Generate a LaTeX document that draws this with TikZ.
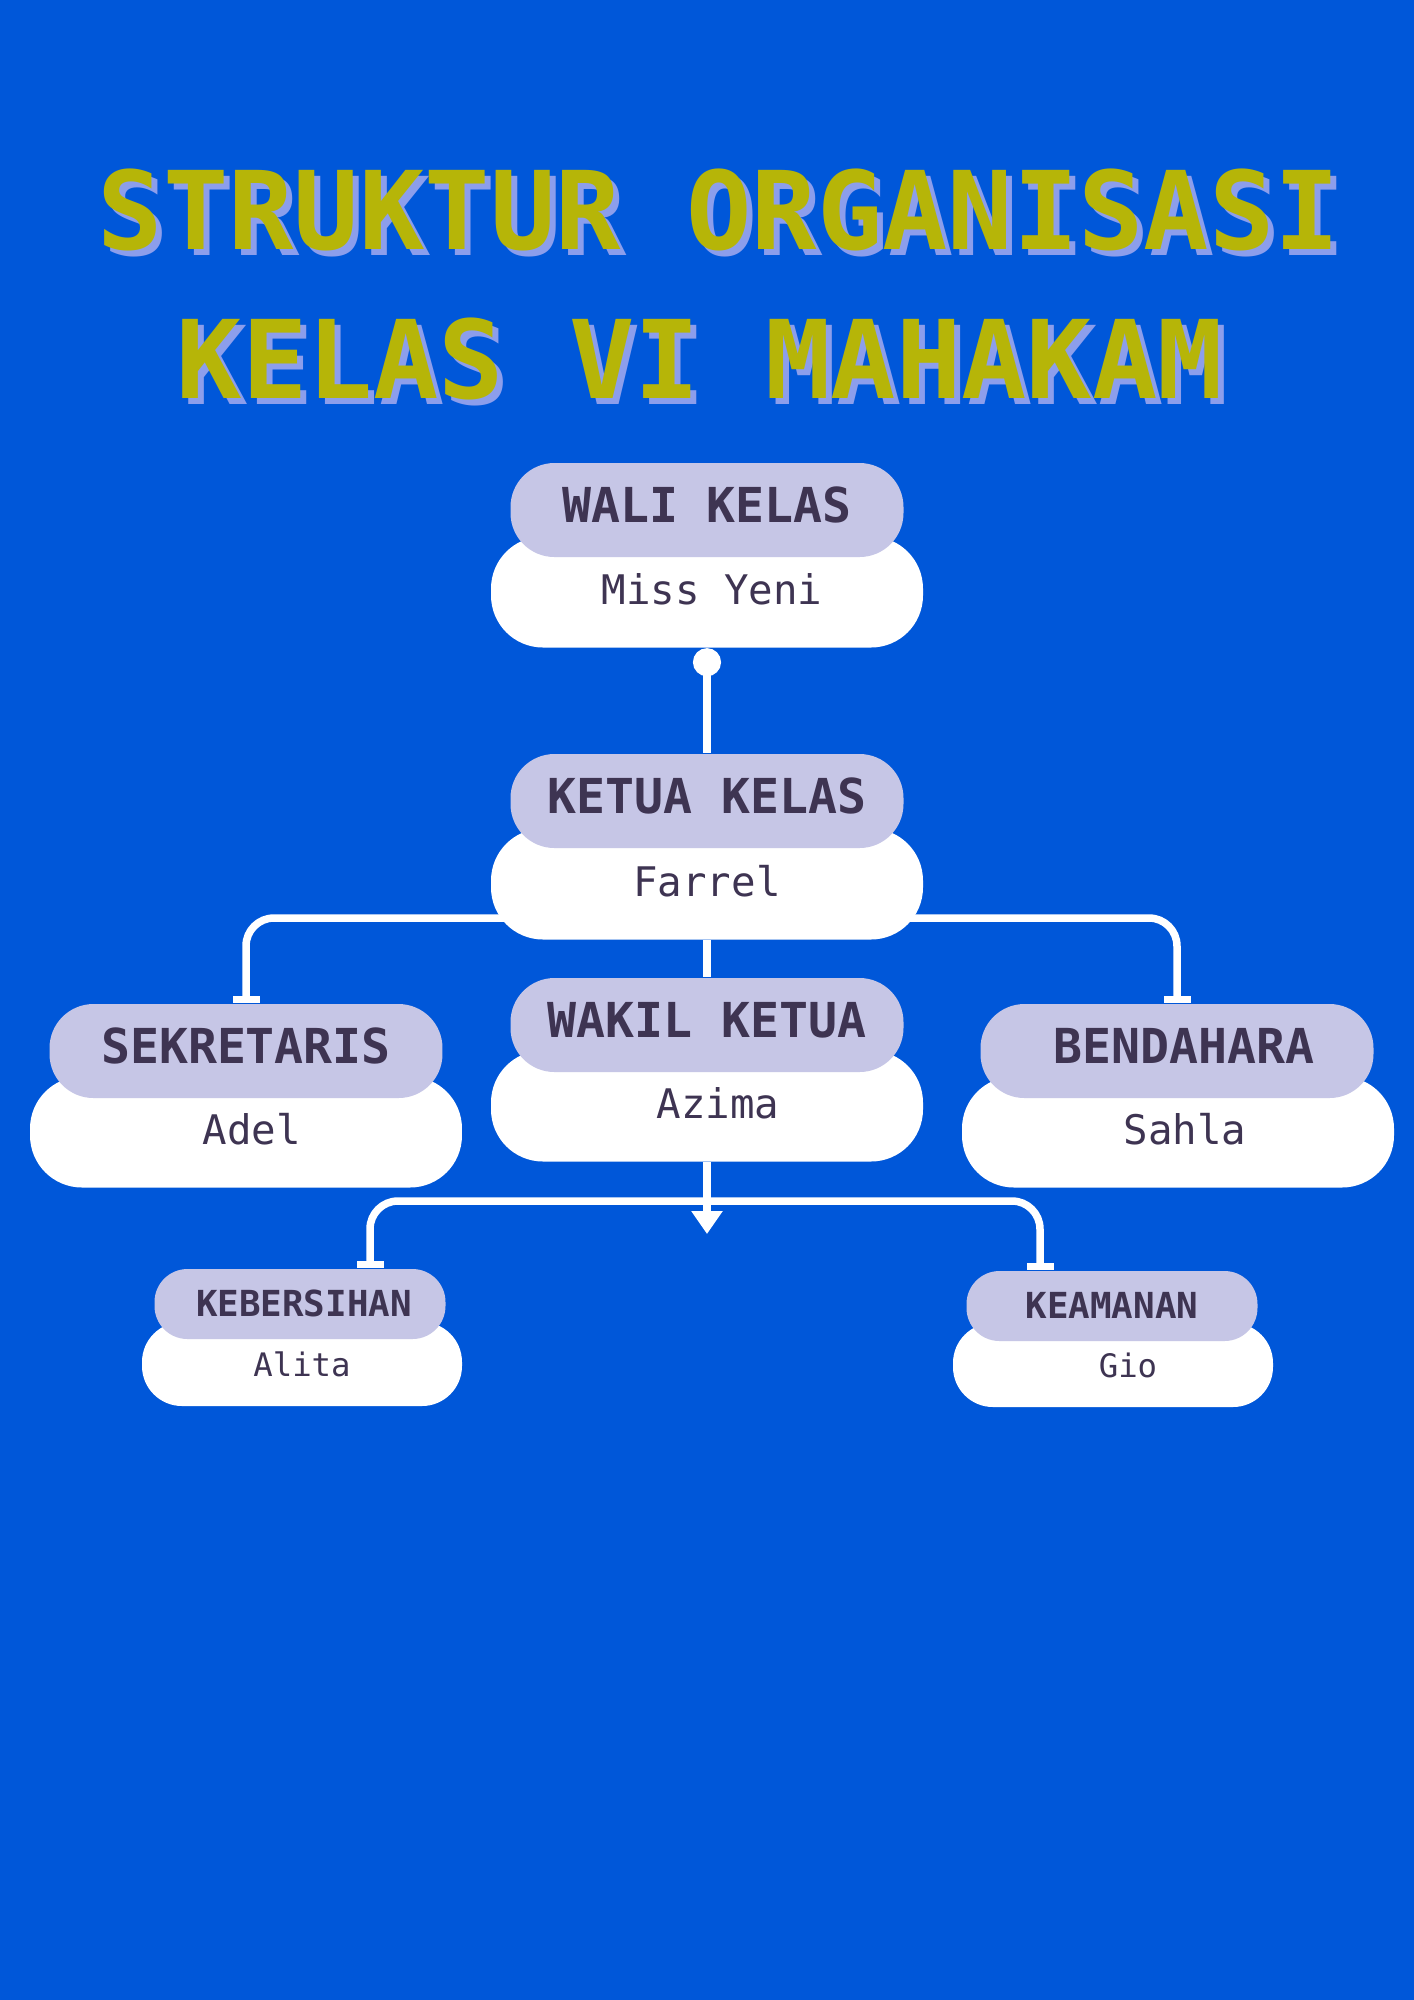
\documentclass[tikz,border=0pt]{standalone}
\usepackage{fontspec}
\setmonofont{DejaVu Sans Mono}
\usetikzlibrary{arrows.meta}

\definecolor{bgblue}{RGB}{0,87,217}
\definecolor{lav}{RGB}{198,198,230}
\definecolor{ink}{RGB}{62,52,82}
\definecolor{olive}{RGB}{182,181,8}
\definecolor{shade}{RGB}{140,158,236}

% title text with its shadow
\newcommand{\shadowed}[1]{\makebox[0pt][l]{\raisebox{-0.6mm}{\hspace*{0.6mm}\color{shade}#1}}#1}

\pgfdeclarelayer{bg}
\pgfsetlayers{bg,main}

\begin{document}
\begin{tikzpicture}[x=0.1mm, y=-0.1mm,
        head/.style={rectangle, rounded corners=4.4mm, fill=lav, text=ink, inner sep=0pt,
            minimum width=39.3mm, minimum height=9.4mm, text height=0.73em, text depth=0pt,
            font=\ttfamily\bfseries\fontsize{13.7}{14}\selectfont},
        body/.style={rectangle, rounded corners=5.2mm, fill=white, text=ink, inner sep=0pt,
            minimum width=43.2mm, minimum height=11.1mm, text height=0.73em, text depth=0pt,
            font=\ttfamily\fontsize{11.6}{12}\selectfont},
        subhead/.style={head, rounded corners=3.3mm, minimum width=29.1mm, minimum height=7mm,
            font=\ttfamily\bfseries\fontsize{10.2}{11}\selectfont},
        subbody/.style={body, rounded corners=4mm, minimum width=32mm, minimum height=8.4mm,
            font=\ttfamily\fontsize{9.2}{10}\selectfont},
        nudge/.style={execute at begin node={\hspace*{#1}}},
        title/.style={anchor=base, inner sep=0pt, text=olive, font=\ttfamily\bfseries\fontsize{30.9}{32}\selectfont},
        link/.style={draw=white, line width=0.75mm, rounded corners=2.8mm},
        stub/.style={-{Rectangle[length=0.7mm, width=2.7mm]}}]
    \useasboundingbox (0, 0) rectangle (1414, 2000);

    % title
    \node[title] at (719, 249)  (t1)    {\shadowed{STRUKTUR ORGANISASI}};
    \node[title] at (700, 398)  (t2)    {\shadowed{KELAS VI MAHAKAM}};

    % boxes
    \node[body, nudge=1mm] at (707, 592)  (walib)    {Miss Yeni};
    \node[head] at (707, 510)  (wali)     {WALI KELAS};

    \node[body] at (707, 884)  (ketuab)   {Farrel};
    \node[head] at (707, 801)  (ketua)    {KETUA KELAS};

    \node[body, nudge=1.2mm] at (246, 1132) (sekb)     {Adel};
    \node[head] at (246, 1051) (sek)      {SEKRETARIS};

    \node[body, nudge=2.2mm] at (707, 1106) (wakilb)   {Azima};
    \node[head] at (707, 1025) (wakil)    {WAKIL KETUA};

    \node[body, nudge=1.4mm] at (1178, 1132) (bendb)   {Sahla};
    \node[head, nudge=1.4mm] at (1177, 1051) (bend)    {BENDAHARA};

    \node[subbody] at (302, 1364)  (kebb)  {Alita};
    \node[subhead, nudge=0.8mm] at (300, 1304)  (keb)   {KEBERSIHAN};

    \node[subbody, nudge=3mm] at (1113, 1365) (keab)  {Gio};
    \node[subhead] at (1112, 1306) (kea)   {KEAMANAN};

    \coordinate (kh)  at (707, 918);
    \coordinate (wh)  at (707, 1201);
    \coordinate (tip) at (707, 1234);

    % lines behind the boxes
    \begin{pgfonlayer}{bg}
        \fill[bgblue] (0, 0) rectangle (1414, 2000);

        \draw[link, {Circle[length=2.8mm]}-] (walib.south) -- (ketua.north);
        \draw[link] (ketuab.south) -- (wakil.north);
        \draw[link, stub] (kh) -| (sek.north);
        \draw[link, stub] (kh) -| (bend.north);

        \draw[link, -{Triangle[width=3mm, length=2.3mm]}] (wakilb.south) -- (tip);
        \draw[link, stub] (wh) -| ([xshift=7mm]keb.north);
        \draw[link, stub] (wh) -| ([xshift=-7.2mm]kea.north);
    \end{pgfonlayer}
\end{tikzpicture}
\end{document}
